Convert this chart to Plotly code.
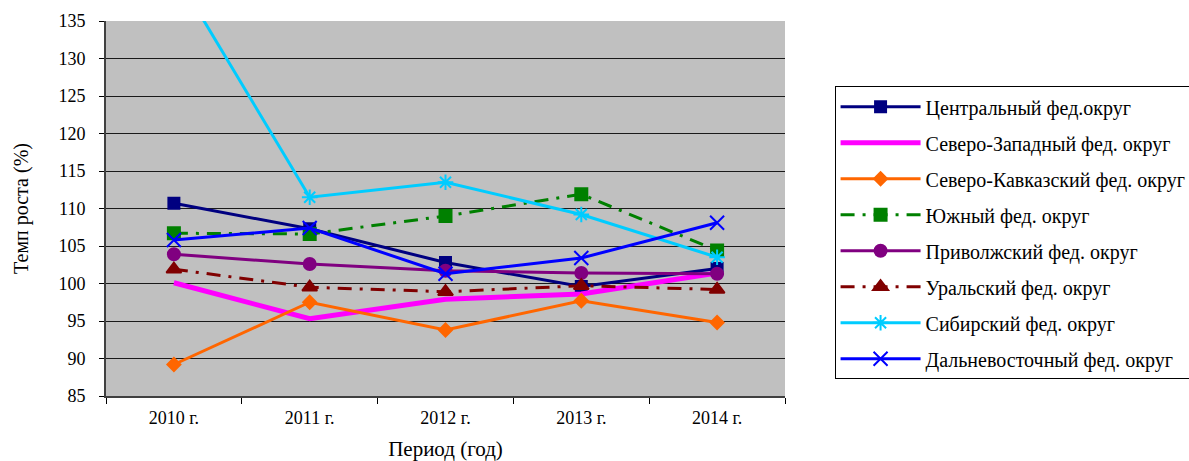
import plotly.graph_objects as go

years = ["2010 г.", "2011 г.", "2012 г.", "2013 г.", "2014 г."]
central = [110.7, 107.3, 102.8, 99.6, 102.0]
northwest = [100.1, 95.3, 97.9, 98.6, 101.4]
ncaucasus = [89.2, 97.5, 93.8, 97.7, 94.8]
southern = [106.7, 106.6, 109.0, 111.9, 104.4]
volga = [103.9, 102.6, 101.7, 101.4, 101.3]
ural = [101.9, 99.5, 98.9, 99.7, 99.2]
siberian = [141.7, 111.5, 113.5, 109.2, 103.5]
fareast = [105.8, 107.4, 101.3, 103.4, 108.1]

names = ["Центральный фед.округ", "Северо-Западный фед. округ", "Северо-Кавказский фед. округ",
         "Южный фед. округ", "Приволжский фед. округ", "Уральский фед. округ",
         "Сибирский фед. округ", "Дальневосточный фед. округ"]

series = [central, northwest, ncaucasus, southern, volga, ural, siberian, fareast]
styles = [
    dict(color="#000080", width=3, dash="solid", symbol="square", size=11, mode="lines+markers"),
    dict(color="#FF00FF", width=5, dash="solid", symbol="circle", size=1, mode="lines"),
    dict(color="#FF6600", width=3, dash="solid", symbol="diamond", size=10, mode="lines+markers"),
    dict(color="#008000", width=3, dash="14px,8px,3px,8px", symbol="square", size=12, mode="lines+markers"),
    dict(color="#800080", width=3, dash="solid", symbol="circle", size=12, mode="lines+markers"),
    dict(color="#800000", width=3, dash="14px,8px,3px,8px", symbol="triangle-up", size=13, mode="lines+markers"),
    dict(color="#00CCFF", width=3, dash="solid", symbol="asterisk-open", size=13, mode="lines+markers"),
    dict(color="#0000FF", width=3, dash="solid", symbol="x-thin-open", size=14, mode="lines+markers"),
]

FONT = "Times New Roman"

fig = go.Figure()
for i, (name, vals, st) in enumerate(zip(names, series, styles)):
    fig.add_trace(go.Scatter(
        x=years, y=vals, name=name, mode=st["mode"], legendgroup=str(i),
        line=dict(color=st["color"], width=st["width"], dash=st["dash"]),
        marker=dict(symbol=st["symbol"], size=st["size"], color=st["color"],
                    line=dict(color=st["color"], width=2)),
    ))

fig.update_layout(
    width=1189, height=461,
    margin=dict(l=106, r=404, t=21, b=65, autoexpand=False),
    paper_bgcolor="white", plot_bgcolor="#C0C0C0",
    font=dict(family=FONT, size=18, color="black"),
    showlegend=True,
    legend=dict(
        x=1.073, y=0.826, xanchor="left", yanchor="top",
        bgcolor="white", bordercolor="black", borderwidth=1,
        font=dict(family=FONT, size=20), tracegroupgap=7, traceorder="grouped",
        itemwidth=80,
    ),
    xaxis=dict(
        type="category", range=[-0.5, 4.5], tickson="boundaries", ticks="outside", ticklen=6,
        tickcolor="black", showline=True, linecolor="#404040", linewidth=2,
        showgrid=False, tickfont=dict(family=FONT, size=18), automargin=False,
        ticklabelstandoff=4,
        title=dict(text="Период (год)", font=dict(family=FONT, size=21), standoff=16),
    ),
    yaxis=dict(
        range=[85, 135], dtick=5, ticks="outside", ticklen=5, tickcolor="black",
        showline=True, linecolor="#404040", linewidth=2,
        showgrid=True, gridcolor="#1a1a1a", gridwidth=1, zeroline=False,
        tickfont=dict(family=FONT, size=18), automargin=False,
        ticklabelstandoff=10,
        title=dict(text="Темп роста (%)", font=dict(family=FONT, size=20), standoff=24),
    ),
)

fig.write_html("out.html", config={"displayModeBar": False},
               post_script="document.body.style.margin='0';")
